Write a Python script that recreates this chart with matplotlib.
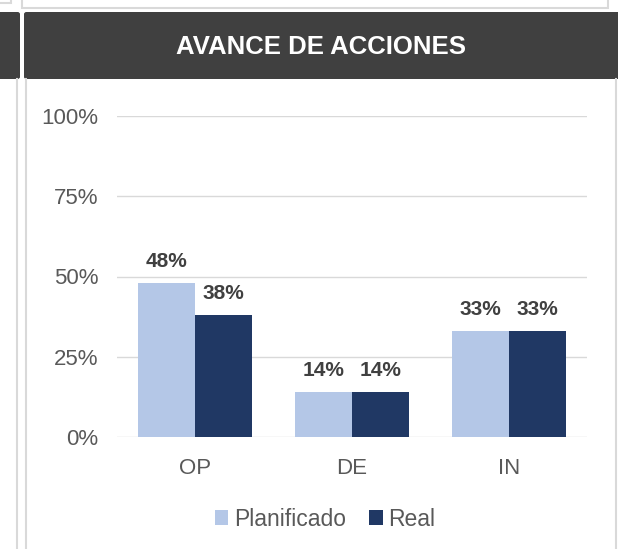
import matplotlib
matplotlib.use('Agg')
import numpy as np
import matplotlib.pyplot as plt
from matplotlib.patches import Rectangle, FancyBboxPatch
from matplotlib.lines import Line2D

# Daten
categorias = ['OP', 'DE', 'IN']
planificado = [0.48, 0.14, 0.33]
real = [0.38, 0.14, 0.33]
ticks_y = [0, 0.25, 0.5, 0.75, 1.0]
etiquetas_y = ['0%', '25%', '50%', '75%', '100%']

W, H = 618, 549
plt.rcParams['font.family'] = ['Liberation Sans', 'DejaVu Sans']

fig = plt.figure(figsize=(W / 100, H / 100), dpi=100)
fig.patch.set_facecolor('white')

BORDE = '#D9D9D9'
OSCURO = '#404040'


def caja(x0, y0, x1, y1, **kw):
    # Rechteck in Pixeln (Ursprung oben links)
    return Rectangle((x0 / W, 1 - y1 / H), (x1 - x0) / W, (y1 - y0) / H,
                     transform=fig.transFigure, **kw)


def linea_v(x, y0, y1):
    return Line2D([x / W, x / W], [1 - y0 / H, 1 - y1 / H], transform=fig.transFigure,
                  color=BORDE, lw=1.5)


# Rahmen und Kopfzeile
fig.add_artist(caja(22, -5, 608, 8, facecolor='white', edgecolor=BORDE, lw=1.5))
fig.add_artist(caja(-5, -5, 11, 3, facecolor='white', edgecolor=BORDE, lw=1.5))
for x0, x1 in [(-10, 20), (24, 630)]:
    fig.add_artist(FancyBboxPatch((x0 / W, 1 - 79 / H), (x1 - x0) / W, 67 / H,
                                  boxstyle='round,pad=0,rounding_size=0.004',
                                  transform=fig.transFigure, facecolor=OSCURO,
                                  edgecolor='none'))
for x in [17, 26, 616]:
    fig.add_artist(linea_v(x, 79, 560))

fig.text(321 / W, 1 - 54 / H, 'AVANCE DE ACCIONES', color='white', fontsize=18.5,
         fontweight='bold', ha='center', va='baseline')

# Diagramm
ax = fig.add_axes([117 / W, 1 - 437 / H, 470 / W, 321 / H])
x = np.arange(len(categorias))
w = 0.364
b1 = ax.bar(x - w / 2, planificado, w, color='#B4C7E7', label='Planificado', zorder=3)
b2 = ax.bar(x + w / 2, real, w, color='#203864', label='Real', zorder=3)

for barras, valores in [(b1, planificado), (b2, real)]:
    for rect, v in zip(barras, valores):
        ax.annotate(f'{v * 100:.0f}%', (rect.get_x() + rect.get_width() / 2, v),
                    xytext=(0, 8.5), textcoords='offset points', ha='center',
                    va='bottom', fontsize=15, fontweight='bold', color=OSCURO)

ax.set_xlim(-0.5, 2.5)
ax.set_ylim(0, 1)
ax.set_yticks(ticks_y)
ax.set_yticklabels(etiquetas_y)
ax.set_xticks(x)
ax.set_xticklabels(categorias)
ax.yaxis.grid(True, color=BORDE, lw=1.0)
ax.set_axisbelow(True)
for s in ax.spines.values():
    s.set_visible(False)
ax.tick_params(axis='y', length=0, pad=13.5, labelsize=16, labelcolor='#595959')
ax.tick_params(axis='x', length=0, pad=15, labelsize=16, labelcolor='#595959')
ax.set_facecolor('none')

fig.legend(handles=[b1, b2], loc='center', bbox_to_anchor=(325 / W, 1 - 519 / H),
           ncol=2, frameon=False, fontsize=16.5, labelcolor='#595959',
           handlelength=0.6, handleheight=0.6, handletextpad=0.25,
           columnspacing=1.0)

fig.savefig('out.png', dpi=100)
